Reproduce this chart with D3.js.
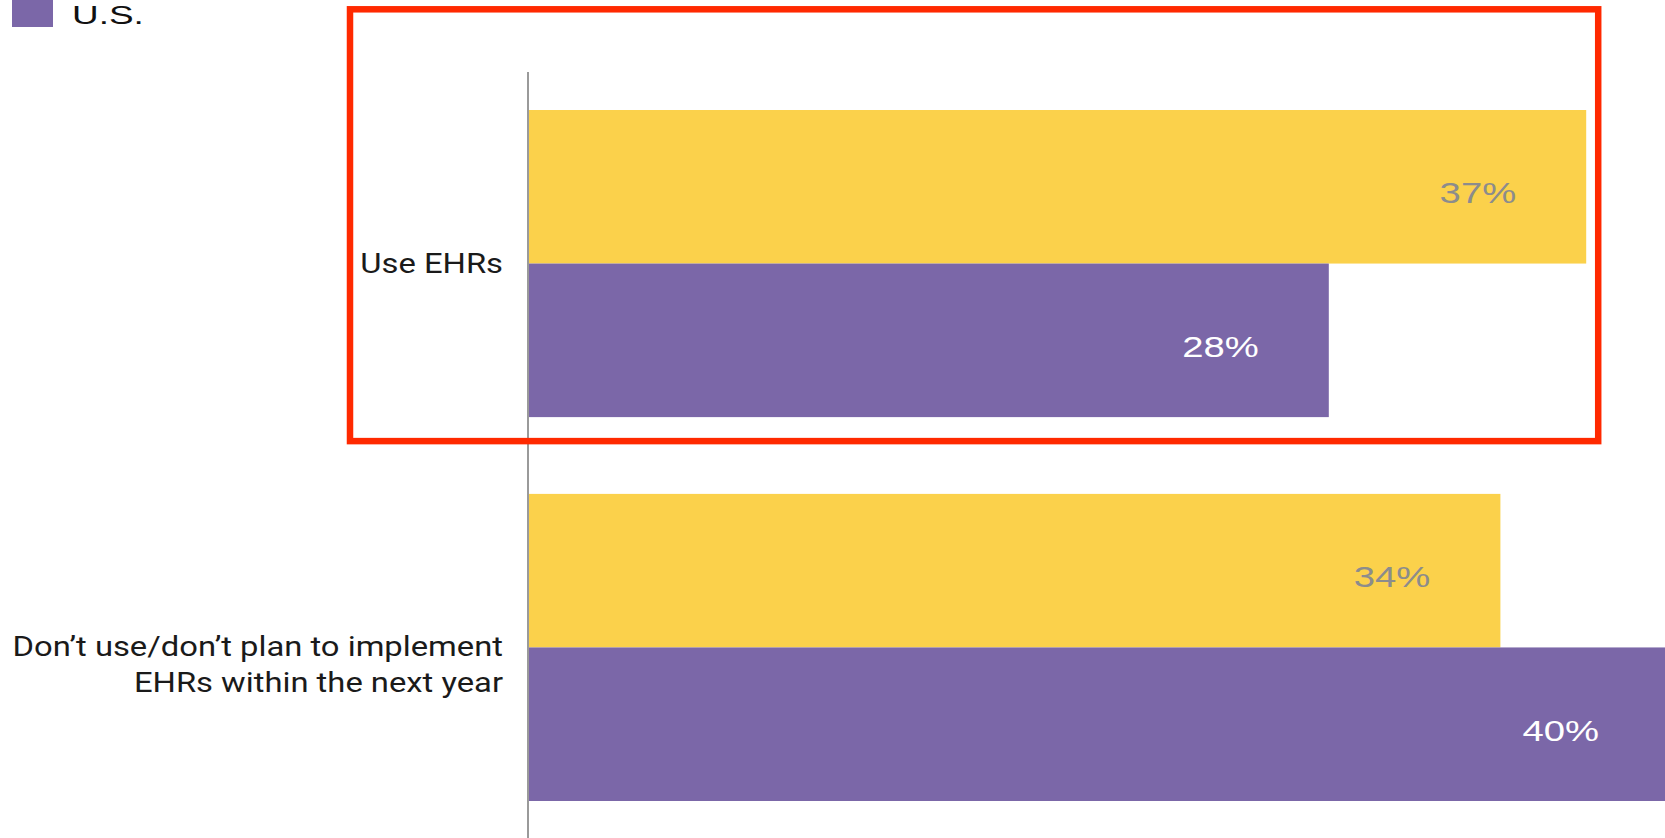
<!DOCTYPE html>
<html>
<head>
<meta charset="utf-8">
<script src="https://cdn.jsdelivr.net/npm/d3@7"></script>
<style>
  html, body { margin: 0; padding: 0; background: #fff; }
  svg { display: block; }
</style>
</head>
<body>
<svg id="chart" width="1665" height="838"></svg>
<script>
// Categories (each may wrap onto several lines)
const categories = ["Use EHRs", "Don’t use/don’t plan to implement"];
const categoryLines = [["Use EHRs"], ["Don’t use/don’t plan to implement", "EHRs within the next year"]];

// Two series per category: comparison group (yellow) and U.S. (purple)
const seriesKeys = ["comparison", "us"];
const comparisonValues = [37, 34];
const usValues = [28, 40];

const legendLabels = ["U.S."];

const colors = { comparison: "#fbd14b", us: "#7b67a8" };
const labelColors = { comparison: "#8c8c8c", us: "#ffffff" };

const rows = categories.map((c, i) => ({
  category: c,
  lines: categoryLines[i],
  values: [
    { key: "comparison", value: comparisonValues[i] },
    { key: "us", value: usValues[i] }
  ]
}));

const svg = d3.select("#chart");
const W = 1665, H = 838;

const x = d3.scaleLinear().domain([0, 40]).range([528, 528 + 40 * 28.6]);
const y0 = d3.scaleBand().domain(categories).range([110, 801]).paddingInner(0.2).paddingOuter(0);
const y1 = d3.scaleBand().domain(seriesKeys).range([0, y0.bandwidth()]);

const font = "'Liberation Sans', Arial, Helvetica, sans-serif";
const catFont = "Roboto, 'Liberation Sans', Arial, sans-serif";

// Bars
const groups = svg.append("g").selectAll("g.group")
  .data(rows).join("g")
  .attr("class", "group")
  .attr("transform", d => `translate(0,${y0(d.category)})`);

groups.selectAll("rect")
  .data(d => d.values).join("rect")
  .attr("x", x(0))
  .attr("y", d => y1(d.key))
  .attr("width", d => Math.min(x(d.value), W) - x(0))
  .attr("height", y1.bandwidth())
  .attr("fill", d => colors[d.key]);

// Value labels inside the bar ends
groups.selectAll("text.value")
  .data(d => d.values).join("text")
  .attr("class", "value")
  .attr("transform", d => `translate(${Math.min(x(d.value), W + 4) - 70},${y1(d.key) + y1.bandwidth() / 2 + 16.5}) scale(1.32,1)`)
  .attr("text-anchor", "end")
  .attr("font-family", font)
  .attr("font-size", 29)
  .attr("fill", d => labelColors[d.key])
  .text(d => d.value + "%");

// Vertical baseline axis
svg.append("line")
  .attr("x1", x(0)).attr("x2", x(0))
  .attr("y1", 72).attr("y2", H)
  .attr("stroke", "#9a9a9a")
  .attr("stroke-width", 2);

// Category labels, right-aligned against the axis
const catLabels = svg.append("g").selectAll("g.cat")
  .data(rows).join("g")
  .attr("class", "cat")
  .attr("transform", d => `translate(${x(0) - 25},${y0(d.category) + y0.bandwidth() / 2 + 9})`);

catLabels.selectAll("text")
  .data(d => d.lines).join("text")
  .attr("transform", (d, i) => `translate(0,${i * 36}) scale(1.17,1)`)
  .attr("text-anchor", "end")
  .attr("font-family", catFont)
  .attr("font-size", 28)
  .attr("fill", "#1a1a1a")
  .text(d => d);

// Legend entry (U.S.)
const legend = svg.append("g");
legend.append("rect")
  .attr("x", 12).attr("y", -14)
  .attr("width", 41).attr("height", 41)
  .attr("fill", colors.us);
legend.append("text")
  .attr("transform", "translate(72,24) scale(1.42,1)")
  .attr("font-family", font)
  .attr("font-size", 26)
  .attr("fill", "#111")
  .text(legendLabels[0]);

// Highlight frame around the first category
const hlTop = y0(categories[0]) - 100.7;
const hlBottom = y0(categories[0]) + y0.bandwidth() + 24;
const hlLeft = x(0) - 178;
const hlRight = x(comparisonValues[0]) + 12;
svg.append("rect")
  .attr("x", hlLeft).attr("y", hlTop)
  .attr("width", hlRight - hlLeft).attr("height", hlBottom - hlTop)
  .attr("fill", "none")
  .attr("stroke", "#ff2900")
  .attr("stroke-width", 6.5);
</script>
</body>
</html>
